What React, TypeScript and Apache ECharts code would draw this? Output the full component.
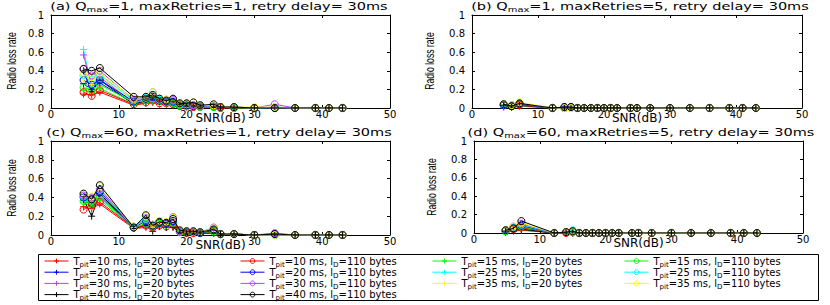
import React, { useEffect, useRef } from 'react';
import * as echarts from 'echarts';

// SNR sample points (dB)
const snr = [4.8, 6, 7.2, 12.2, 14, 15, 16, 17, 18, 19, 20, 21, 22, 24, 25, 27, 30, 33, 36, 39, 41, 43];
// packet inter-arrival times (ms), in series order
const tpit = [10, 15, 20, 25, 30, 35, 40];
// payload lengths (bytes)
const payloads = [20, 110];
const colors = ['#ff0000', '#00ff00', '#0000ff', '#00ffff', '#c040ff', '#ffff00', '#000000'];

// panel titles
const panelLetters = ['a', 'b', 'c', 'd'];
const qmax = [1, 1, 60, 60];
const maxRetries = [1, 5, 1, 5];
const retryDelay = [30, 30, 30, 30];

const xTicks = [0, 50, 10];
const yTicks = [0, 1, 0.2];

// (a) Qmax=1, maxRetries=1 — rows follow tpit order
const lossA20 = [
  [0.15, 0.14, 0.17, 0.03, 0.05, 0.06, 0.04, 0.04, 0.03, 0.02, 0.01, 0.01, 0.01, 0.01, 0, 0, 0, 0, 0, 0, 0, 0],
  [0.19, 0.17, 0.21, 0.04, 0.06, 0.07, 0.05, 0.05, 0.04, 0.03, 0.02, 0.02, 0.01, 0.01, 0.01, 0, 0, 0, 0, 0, 0, 0],
  [0.26, 0.2, 0.27, 0.05, 0.07, 0.09, 0.06, 0.06, 0.05, 0.03, 0.02, 0.02, 0.01, 0.01, 0.01, 0, 0, 0, 0, 0, 0, 0],
  [0.63, 0.22, 0.31, 0.05, 0.08, 0.1, 0.06, 0.06, 0.06, 0.03, 0.03, 0.02, 0.02, 0.01, 0.01, 0, 0, 0, 0, 0, 0, 0],
  [0.57, 0.24, 0.33, 0.06, 0.09, 0.11, 0.07, 0.07, 0.06, 0.04, 0.03, 0.02, 0.02, 0.01, 0.01, 0.01, 0, 0.01, 0, 0, 0, 0],
  [0.3, 0.25, 0.35, 0.06, 0.09, 0.12, 0.07, 0.07, 0.07, 0.04, 0.03, 0.03, 0.02, 0.01, 0.01, 0.01, 0, 0, 0, 0, 0, 0],
  [0.4, 0.18, 0.3, 0.04, 0.08, 0.12, 0.07, 0.06, 0.07, 0.04, 0.03, 0.02, 0.02, 0.01, 0.01, 0, 0, 0, 0, 0, 0, 0],
];
const lossA110 = [
  [0.17, 0.13, 0.19, 0.04, 0.06, 0.08, 0.05, 0.05, 0.04, 0.02, 0.02, 0.01, 0.01, 0.01, 0, 0, 0, 0, 0, 0, 0, 0],
  [0.22, 0.19, 0.25, 0.06, 0.08, 0.1, 0.07, 0.06, 0.05, 0.03, 0.02, 0.02, 0.01, 0.01, 0.01, 0, 0, 0, 0, 0, 0, 0],
  [0.3, 0.25, 0.3, 0.07, 0.1, 0.12, 0.08, 0.07, 0.07, 0.04, 0.03, 0.02, 0.02, 0.02, 0.01, 0.01, 0, 0, 0, 0, 0, 0],
  [0.35, 0.3, 0.36, 0.08, 0.11, 0.14, 0.09, 0.08, 0.08, 0.04, 0.04, 0.03, 0.02, 0.02, 0.01, 0.01, 0, 0.01, 0, 0, 0, 0],
  [0.42, 0.35, 0.4, 0.09, 0.12, 0.17, 0.1, 0.09, 0.09, 0.05, 0.05, 0.03, 0.02, 0.02, 0.01, 0.01, 0, 0.04, 0, 0, 0, 0],
  [0.38, 0.33, 0.38, 0.1, 0.12, 0.17, 0.1, 0.09, 0.1, 0.05, 0.05, 0.06, 0.03, 0.03, 0.01, 0.01, 0.01, 0.01, 0, 0, 0, 0],
  [0.42, 0.4, 0.43, 0.12, 0.12, 0.14, 0.1, 0.08, 0.1, 0.05, 0.05, 0.06, 0.03, 0.04, 0.01, 0.01, 0, 0, 0, 0, 0, 0],
];

// (b) Qmax=1, maxRetries=5
const lossB20 = [
  [0.01, 0.01, 0.02, 0, 0, 0, 0, 0, 0, 0, 0, 0, 0, 0, 0, 0, 0, 0, 0, 0, 0, 0],
  [0.02, 0.01, 0.02, 0, 0, 0, 0, 0, 0, 0, 0, 0, 0, 0, 0, 0, 0, 0, 0, 0, 0, 0],
  [0.02, 0.02, 0.03, 0, 0.01, 0, 0, 0, 0, 0, 0, 0, 0, 0, 0, 0, 0, 0, 0, 0, 0, 0],
  [0.02, 0.02, 0.03, 0, 0, 0.01, 0, 0, 0, 0, 0, 0, 0, 0, 0, 0, 0, 0, 0, 0, 0, 0],
  [0.03, 0.02, 0.04, 0, 0, 0, 0, 0, 0, 0, 0, 0, 0, 0, 0, 0, 0, 0, 0, 0, 0, 0],
  [0.03, 0.02, 0.04, 0, 0, 0, 0, 0, 0, 0, 0, 0, 0, 0, 0, 0, 0, 0, 0, 0, 0, 0],
  [0.03, 0.01, 0.03, 0, 0, 0, 0, 0, 0, 0, 0, 0, 0, 0, 0, 0, 0, 0, 0, 0, 0, 0],
];
const lossB110 = [
  [0.03, 0.02, 0.03, 0, 0, 0.01, 0, 0, 0, 0, 0, 0, 0, 0, 0, 0, 0, 0, 0, 0, 0, 0],
  [0.03, 0.02, 0.04, 0, 0, 0, 0, 0, 0, 0, 0, 0, 0, 0, 0, 0, 0, 0, 0, 0, 0, 0],
  [0.03, 0.02, 0.04, 0, 0.01, 0.01, 0, 0, 0, 0, 0, 0, 0, 0, 0, 0, 0, 0, 0, 0, 0, 0],
  [0.04, 0.03, 0.05, 0, 0, 0, 0, 0, 0, 0, 0, 0, 0, 0, 0, 0, 0, 0, 0, 0, 0, 0],
  [0.04, 0.03, 0.05, 0, 0, 0.01, 0, 0, 0, 0, 0, 0, 0, 0, 0, 0, 0, 0, 0, 0, 0, 0],
  [0.04, 0.03, 0.06, 0, 0, 0, 0, 0, 0, 0, 0, 0, 0, 0, 0, 0, 0, 0, 0, 0, 0, 0],
  [0.04, 0.02, 0.05, 0, 0.01, 0.01, 0, 0, 0, 0, 0, 0, 0, 0, 0, 0, 0, 0, 0, 0, 0, 0],
];

// (c) Qmax=60, maxRetries=1
const lossC20 = [
  [0.3, 0.28, 0.33, 0.07, 0.08, 0.07, 0.09, 0.08, 0.09, 0.03, 0.02, 0.02, 0.02, 0.02, 0.01, 0.01, 0, 0, 0, 0, 0, 0],
  [0.34, 0.3, 0.38, 0.07, 0.1, 0.08, 0.1, 0.09, 0.1, 0.03, 0.02, 0.02, 0.02, 0.02, 0.01, 0.01, 0, 0, 0, 0, 0, 0],
  [0.37, 0.32, 0.42, 0.07, 0.11, 0.08, 0.11, 0.1, 0.12, 0.03, 0.03, 0.02, 0.02, 0.03, 0.01, 0.01, 0, 0.01, 0, 0, 0, 0],
  [0.36, 0.34, 0.4, 0.07, 0.12, 0.07, 0.11, 0.1, 0.13, 0.03, 0.03, 0.03, 0.02, 0.03, 0.01, 0.01, 0, 0, 0, 0, 0, 0],
  [0.38, 0.36, 0.44, 0.07, 0.13, 0.08, 0.12, 0.11, 0.14, 0.04, 0.03, 0.03, 0.02, 0.04, 0.01, 0.01, 0, 0.01, 0, 0, 0, 0],
  [0.4, 0.38, 0.48, 0.08, 0.14, 0.08, 0.12, 0.11, 0.15, 0.04, 0.03, 0.03, 0.02, 0.04, 0.01, 0.01, 0, 0, 0, 0, 0, 0],
  [0.38, 0.2, 0.44, 0.07, 0.1, 0.04, 0.09, 0.08, 0.08, 0.03, 0.02, 0.02, 0.02, 0.02, 0.01, 0.01, 0, 0, 0, 0, 0, 0],
];
const lossC110 = [
  [0.27, 0.33, 0.35, 0.08, 0.1, 0.08, 0.1, 0.09, 0.11, 0.03, 0.02, 0.02, 0.02, 0.03, 0.01, 0.01, 0, 0, 0, 0, 0, 0],
  [0.36, 0.36, 0.4, 0.08, 0.12, 0.09, 0.12, 0.11, 0.13, 0.03, 0.03, 0.03, 0.02, 0.04, 0.01, 0.01, 0, 0, 0, 0, 0, 0],
  [0.4, 0.38, 0.46, 0.08, 0.15, 0.1, 0.13, 0.12, 0.15, 0.04, 0.03, 0.03, 0.02, 0.05, 0.01, 0.01, 0, 0.01, 0, 0, 0, 0],
  [0.41, 0.39, 0.48, 0.08, 0.17, 0.1, 0.14, 0.13, 0.18, 0.04, 0.04, 0.03, 0.03, 0.06, 0.01, 0.01, 0, 0, 0, 0, 0, 0],
  [0.42, 0.4, 0.49, 0.09, 0.18, 0.11, 0.14, 0.13, 0.19, 0.04, 0.04, 0.04, 0.03, 0.08, 0.01, 0.01, 0, 0.02, 0, 0, 0, 0],
  [0.44, 0.41, 0.52, 0.09, 0.2, 0.11, 0.15, 0.14, 0.18, 0.05, 0.04, 0.04, 0.03, 0.07, 0.01, 0.01, 0, 0, 0, 0, 0, 0],
  [0.44, 0.38, 0.53, 0.08, 0.21, 0.1, 0.14, 0.13, 0.17, 0.05, 0.04, 0.04, 0.03, 0.06, 0.01, 0.01, 0, 0.01, 0, 0, 0, 0],
];

// (d) Qmax=60, maxRetries=5
const lossD20 = [
  [0.01, 0.02, 0.03, 0, 0, 0, 0, 0, 0, 0, 0, 0, 0, 0, 0, 0, 0, 0, 0, 0, 0, 0],
  [0.01, 0.03, 0.04, 0, 0, 0, 0, 0, 0, 0, 0, 0, 0, 0, 0, 0, 0, 0, 0, 0, 0, 0],
  [0.01, 0.03, 0.05, 0, 0, 0, 0, 0, 0, 0, 0, 0, 0, 0, 0, 0, 0, 0, 0, 0, 0, 0],
  [0.02, 0.04, 0.05, 0, 0, 0, 0, 0, 0, 0, 0, 0, 0, 0, 0, 0, 0, 0, 0, 0, 0, 0],
  [0.02, 0.04, 0.06, 0, 0, 0, 0, 0, 0, 0, 0, 0, 0, 0, 0, 0, 0, 0, 0, 0, 0, 0],
  [0.02, 0.05, 0.07, 0, 0, 0, 0, 0, 0, 0, 0, 0, 0, 0, 0, 0, 0, 0, 0, 0, 0, 0],
  [0.02, 0.03, 0.04, 0, 0, 0, 0, 0, 0, 0, 0, 0, 0, 0, 0, 0, 0, 0, 0, 0, 0, 0],
];
const lossD110 = [
  [0.02, 0.04, 0.06, 0, 0, 0.01, 0, 0, 0, 0, 0, 0, 0, 0, 0, 0, 0, 0, 0, 0, 0, 0],
  [0.02, 0.05, 0.07, 0, 0.01, 0.01, 0, 0, 0, 0, 0, 0, 0, 0, 0, 0, 0, 0, 0, 0, 0, 0],
  [0.03, 0.06, 0.08, 0, 0.01, 0.02, 0, 0, 0, 0, 0, 0, 0, 0, 0, 0, 0, 0, 0, 0, 0, 0],
  [0.03, 0.06, 0.09, 0, 0.01, 0.03, 0, 0, 0, 0, 0, 0, 0, 0, 0, 0, 0, 0, 0, 0, 0, 0],
  [0.03, 0.07, 0.1, 0, 0.01, 0.02, 0, 0, 0, 0, 0, 0, 0, 0, 0, 0, 0, 0, 0, 0, 0, 0],
  [0.03, 0.07, 0.11, 0, 0.01, 0.02, 0, 0, 0, 0, 0, 0, 0, 0, 0, 0, 0, 0, 0, 0, 0, 0],
  [0.03, 0.05, 0.13, 0, 0.01, 0.02, 0, 0, 0, 0, 0, 0, 0, 0, 0, 0, 0, 0, 0, 0, 0, 0],
];

const panels = [
  [lossA20, lossA110],
  [lossB20, lossB110],
  [lossC20, lossC110],
  [lossD20, lossD110],
];

const FONT = 'DejaVu Sans';
const PLUS = 'path://M0,5L10,5M5,0L5,10';

const seriesName = (t: number, b: number) => `Tpit=${t} ms, lD=${b} bytes`;

const legendRich = {
  n: { fontFamily: FONT, fontSize: 10, lineHeight: 11, color: '#000' },
  s: { fontFamily: FONT, fontSize: 7, lineHeight: 4, padding: [7, 0, 0, 0], color: '#000' },
};

const legendFormatter = (name: string) => {
  const m = name.match(/^Tpit=(\d+) ms, lD=(\d+) bytes$/);
  if (!m) return name;
  return `{n|T}{s|pit}{n|=${m[1]} ms, l}{s|D}{n|=${m[2]} bytes}`;
};

const grids = [
  { left: 51, top: 15, width: 339, height: 93 },
  { left: 472, top: 15, width: 330, height: 93 },
  { left: 51, top: 141, width: 339, height: 94 },
  { left: 474, top: 141, width: 329, height: 92 },
];

export default function App() {
  const ref = useRef<HTMLDivElement>(null);
  useEffect(() => {
    if (!ref.current) return;
    const chart = echarts.init(ref.current, undefined, { renderer: 'svg' });

    const xAxis: any[] = [];
    const yAxis: any[] = [];
    grids.forEach((g, i) => {
      const common = {
        gridIndex: i,
        type: 'value',
        axisLine: { show: true, onZero: false, lineStyle: { color: '#000', width: 1 } },
        axisTick: { show: true, inside: true, length: 3, lineStyle: { color: '#000' } },
        splitLine: { show: false },
      };
      xAxis.push({
        ...common,
        position: 'bottom',
        min: xTicks[0], max: xTicks[1], interval: xTicks[2],
        axisLabel: { color: '#000', fontFamily: FONT, fontSize: 10, margin: 1 },
        name: 'SNR(dB)',
        nameLocation: 'middle',
        nameGap: 4,
        nameMoveOverlap: false,
        nameTextStyle: { color: '#000', fontFamily: FONT, fontSize: 12 },
      });
      xAxis.push({
        ...common,
        position: 'top',
        min: xTicks[0], max: xTicks[1], interval: xTicks[2],
        axisLabel: { show: false },
      });
      yAxis.push({
        ...common,
        position: 'left',
        min: yTicks[0], max: yTicks[1], interval: yTicks[2],
        axisLabel: { color: '#000', fontFamily: FONT, fontSize: 10, margin: 7 },
      });
      yAxis.push({
        ...common,
        position: 'right',
        min: yTicks[0], max: yTicks[1], interval: yTicks[2],
        axisLabel: { show: false },
      });
    });

    const series: any[] = [];
    panels.forEach((pair, p) => {
      pair.forEach((rows, l) => {
        rows.forEach((vals, k) => {
          const c = colors[k];
          series.push({
            type: 'line',
            name: seriesName(tpit[k], payloads[l]),
            xAxisIndex: p * 2,
            yAxisIndex: p * 2,
            data: snr.map((x, i) => [x, vals[i]]),
            symbol: l === 0 ? PLUS : 'circle',
            symbolSize: 7,
            showAllSymbol: true,
            lineStyle: { color: c, width: 1 },
            itemStyle: { color: 'rgba(0,0,0,0)', borderColor: c, borderWidth: 1 },
            emphasis: { disabled: true },
            z: l === 1 && k === 6 ? 3 : 2,
          });
        });
      });
    });

    const legendCols = [
      { left: 44, names: [10, 20, 30, 40].map((t) => seriesName(t, 20)) },
      { left: 240, names: [10, 20, 30, 40].map((t) => seriesName(t, 110)) },
      { left: 432, names: [15, 25, 35].map((t) => seriesName(t, 20)) },
      { left: 624, names: [15, 25, 35].map((t) => seriesName(t, 110)) },
    ];
    const legend = legendCols.map((c) => ({
      orient: 'vertical',
      left: c.left,
      top: 254,
      height: 80,
      itemWidth: 24,
      itemHeight: 6,
      itemGap: -2.8,
      padding: 0,
      data: c.names,
      formatter: legendFormatter,
      itemStyle: { color: 'rgba(0,0,0,0)', borderWidth: 1 },
      lineStyle: { width: 1 },
      textStyle: { color: '#000', fontFamily: FONT, fontSize: 10, rich: legendRich },
      selectedMode: false,
    }));

    const titleRich = {
      n: { fontFamily: FONT, fontSize: 11, lineHeight: 11, fill: '#000' },
      s: { fontFamily: FONT, fontSize: 7.5, lineHeight: 4, padding: [7, 0, 0, 0], fill: '#000' },
    };
    const titlePos = [
      [219, 6], [640, 6], [219, 132], [641, 132],
    ];
    const yNamePos = [
      [12, 61], [430, 61], [12, 188], [432, 187],
    ];
    const graphic: any[] = [
      {
        type: 'rect',
        shape: { x: 38.5, y: 254.5, width: 780, height: 46 },
        style: { fill: '#fff', stroke: '#000', lineWidth: 1 },
        z: -1,
      },
    ];
    panelLetters.forEach((letter, i) => {
      graphic.push({
        type: 'text',
        x: titlePos[i][0],
        y: titlePos[i][1],
        scaleX: 1.32,
        style: {
          text: `{n|(${letter}) Q}{s|max}{n|=${qmax[i]}, maxRetries=${maxRetries[i]}, retry delay= ${retryDelay[i]}ms}`,
          rich: titleRich,
          align: 'center',
          verticalAlign: 'middle',
        },
      });
      graphic.push({
        type: 'text',
        x: yNamePos[i][0],
        y: yNamePos[i][1],
        rotation: Math.PI / 2,
        scaleX: 0.72,
        style: {
          text: 'Radio loss rate',
          font: '12px "Liberation Sans"',
          fill: '#000',
          align: 'center',
          verticalAlign: 'middle',
        },
      });
    });

    chart.setOption({
      animation: false,
      backgroundColor: '#fff',
      grid: grids.map((g) => ({ ...g, containLabel: false })),
      xAxis,
      yAxis,
      legend,
      series,
      graphic,
    });
    return () => chart.dispose();
  }, []);
  return <div ref={ref} style={{ width: 830, height: 305, position: 'absolute', left: 0, top: 0 }} />;
}
